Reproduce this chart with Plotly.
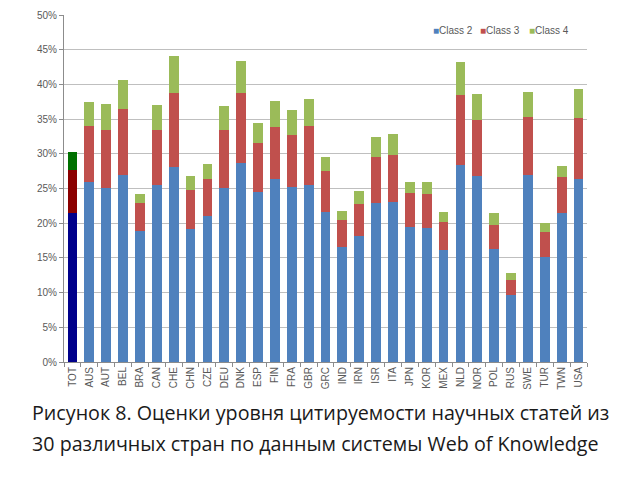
import plotly.graph_objects as go

countries = ["TOT", "AUS", "AUT", "BEL", "BRA", "CAN", "CHE", "CHN", "CZE", "DEU",
             "DNK", "ESP", "FIN", "FRA", "GBR", "GRC", "IND", "IRN", "ISR", "ITA",
             "JPN", "KOR", "MEX", "NLD", "NOR", "POL", "RUS", "SWE", "TUR", "TWN", "USA"]

# cumulative tops (%)
top_class2 = [21.4, 26.0, 25.1, 27.0, 18.9, 25.5, 28.1, 19.1, 21.1, 25.1,
              28.7, 24.5, 26.3, 25.2, 25.5, 21.6, 16.5, 18.1, 22.9, 23.1,
              19.4, 19.3, 16.1, 28.4, 26.8, 16.3, 9.6, 27.0, 15.2, 21.4, 26.3]
top_class3 = [27.6, 34.0, 33.5, 36.5, 22.9, 33.4, 38.7, 24.8, 26.4, 33.5,
              38.8, 31.5, 33.9, 32.7, 34.0, 27.5, 20.5, 22.7, 29.6, 29.8,
              24.3, 24.2, 20.2, 38.5, 34.9, 19.7, 11.8, 35.3, 18.8, 26.7, 35.2]
top_class4 = [30.2, 37.5, 37.2, 40.6, 24.2, 37.0, 44.1, 26.8, 28.5, 36.9,
              43.4, 34.4, 37.6, 36.3, 37.9, 29.6, 21.7, 24.6, 32.4, 32.8,
              26.0, 25.9, 21.6, 43.2, 38.6, 21.4, 12.8, 38.9, 20.1, 28.3, 39.3]

class2 = [round(a, 1) for a in top_class2]
class3 = [round(b - a, 1) for a, b in zip(top_class2, top_class3)]
class4 = [round(c - b, 1) for b, c in zip(top_class3, top_class4)]

series = [
    ("Class 2", class2, "#4f81bd", "#00008b"),
    ("Class 3", class3, "#c0504d", "#8b0000"),
    ("Class 4", class4, "#9bbb59", "#007000"),
]

fig = go.Figure()
for name, vals, color, tot_color in series:
    # the TOT bar is drawn in darker shades
    fig.add_trace(go.Bar(
        x=countries[:1], y=vals[:1], name=name,
        marker=dict(color=tot_color, line=dict(width=0)),
        showlegend=False,
    ))
    fig.add_trace(go.Bar(
        x=countries[1:], y=vals[1:], name=name,
        marker=dict(color=color, line=dict(width=0)),
        showlegend=False,
    ))

# compact Excel-like legend: small square glued to its label
legend_x = [0.702, 0.792, 0.886]
for (name, _, color, _), lx in zip(series, legend_x):
    fig.add_annotation(
        text=f"<span style='color:{color}'>■</span>{name}",
        xref="paper", yref="paper", x=lx, y=0.954,
        xanchor="left", yanchor="middle", showarrow=False,
        font=dict(size=10, color="#595959"),
    )

# page body adds an 8px margin, so the figure is shrunk to fit the window
fig.update_layout(
    width=632, height=472,
    barmode="stack",
    bargap=0.42,
    plot_bgcolor="white",
    paper_bgcolor="white",
    margin=dict(l=56, r=53, t=7, b=118),
    font=dict(family="Liberation Sans, Arial, sans-serif", color="#595959"),
    showlegend=False,
)

fig.update_yaxes(
    range=[0, 50],
    dtick=5,
    ticksuffix="%",
    automargin=False,
    showgrid=True,
    gridcolor="#bfbfbf",
    gridwidth=1,
    showline=True,
    linecolor="#8c8c8c",
    ticks="outside",
    ticklen=4,
    tickcolor="#8c8c8c",
    tickfont=dict(size=10, color="#595959"),
    zeroline=False,
)

fig.update_xaxes(
    categoryorder="array",
    categoryarray=countries,
    automargin=False,
    tickangle=-90,
    tickfont=dict(size=10, color="#595959"),
    showline=True,
    linecolor="#8c8c8c",
    ticks="outside",
    ticklen=4,
    tickcolor="#8c8c8c",
    tickson="boundaries",
)

fig.add_annotation(
    text="Рисунок 8. Оценки уровня цитируемости научных статей из",
    xref="paper", yref="paper", x=0.491, y=-0.145,
    xanchor="center", yanchor="middle", showarrow=False,
    font=dict(size=19.7, color="#1a1a1a", family="Open Sans, sans-serif"),
)
fig.add_annotation(
    text="30 различных стран по данным системы Web of Knowledge",
    xref="paper", yref="paper", x=0.480, y=-0.235,
    xanchor="center", yanchor="middle", showarrow=False,
    font=dict(size=19.7, color="#1a1a1a", family="Open Sans, sans-serif"),
)

fig.write_html("out.html")
